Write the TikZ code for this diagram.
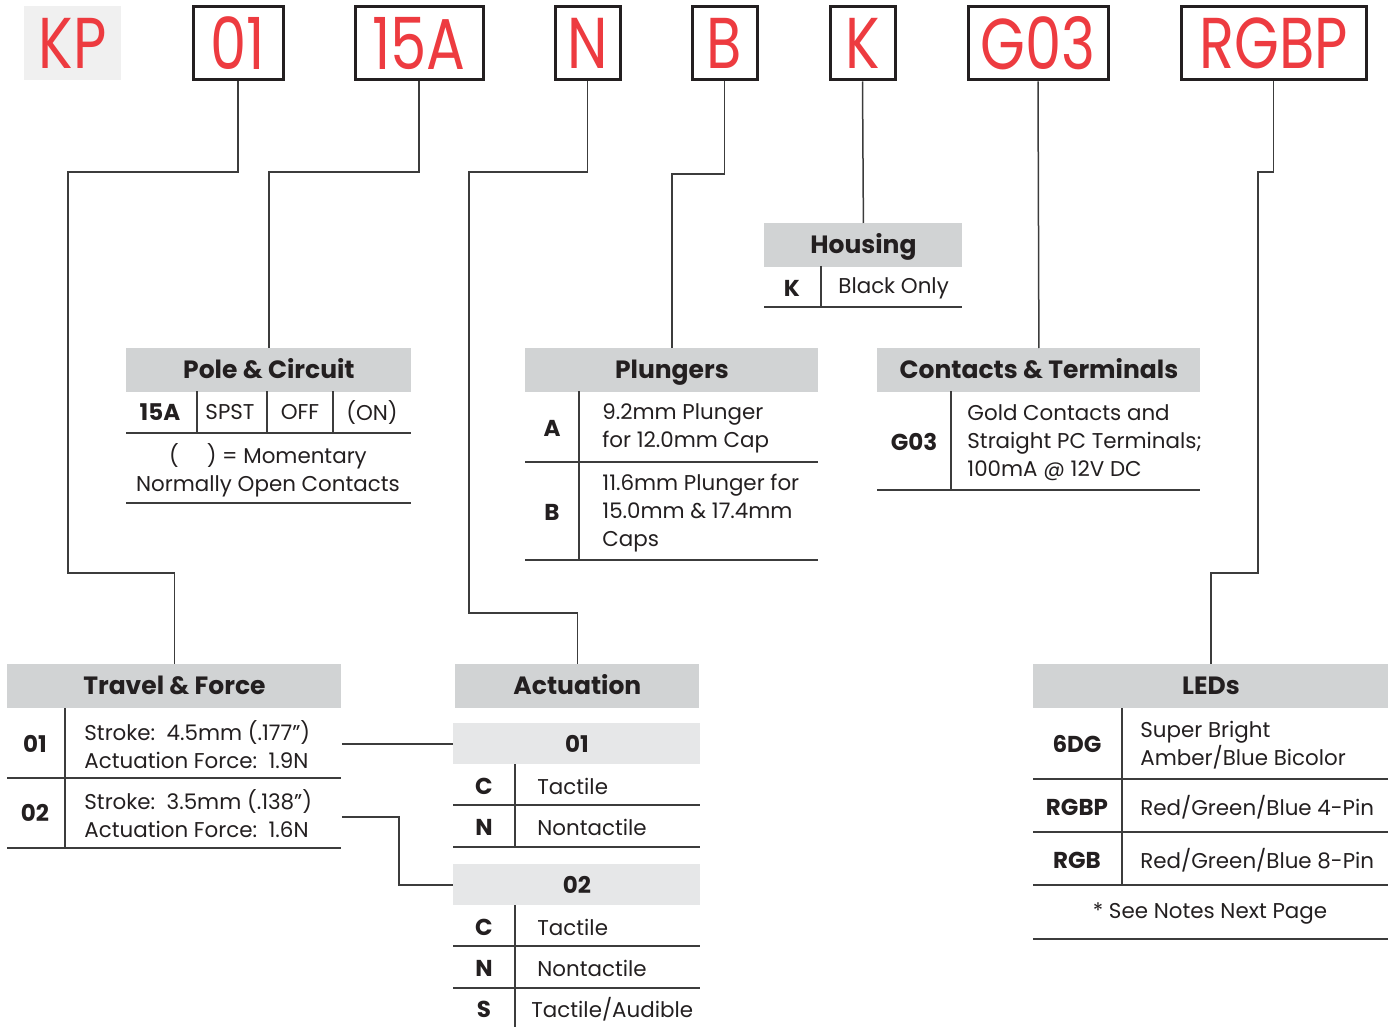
\documentclass[tikz,border=0pt]{standalone}
\usepackage{fontspec}
\setmainfont{Poppins}
\newfontfamily\codefont[FakeStretch=0.8]{Poppins}
\usepackage{xcolor}
\usepackage{tikz}
\usetikzlibrary{positioning, calc}

\definecolor{codered}{RGB}{237,59,64}
\definecolor{hdrgray}{RGB}{209,211,212}
\definecolor{subgray}{RGB}{230,231,232}
\definecolor{kpgray}{RGB}{240,240,240}
\definecolor{linegray}{RGB}{60,60,60}
\definecolor{inkblack}{RGB}{35,31,32}

\begin{document}
\begin{tikzpicture}[
    x=0.5pt, y=-0.5pt,
    every node/.style={text=inkblack},
    codebox/.style={rectangle, draw=inkblack, line width=1.5pt, minimum height=36.5pt, inner sep=0pt, text=codered, font=\codefont\fontsize{36}{36}\selectfont},
    hdr/.style={rectangle, fill=hdrgray, anchor=north west, minimum height=22pt, inner sep=0pt, text height=0.9em, text depth=0.1em, font=\bfseries\fontsize{12.5}{15}\selectfont},
    subhdr/.style={rectangle, fill=subgray, anchor=north west, minimum height=20.5pt, inner sep=0pt, font=\bfseries\fontsize{11.5}{14}\selectfont},
    code/.style={font=\bfseries\fontsize{11.5}{14}\selectfont, inner sep=0pt},
    desc/.style={anchor=west, align=left, inner sep=0pt, font=\fontsize{10.7}{14}\selectfont},
    rule/.style={draw=linegray, line width=1pt},
    conn/.style={draw=linegray, line width=0.75pt}
]
\useasboundingbox (0,0) rectangle (1392,1027);

% Part number
\node[rectangle, fill=kpgray, minimum width=48.5pt, minimum height=37pt, inner sep=0pt, text=codered, font=\codefont\fontsize{36}{36}\selectfont] (kp) at (72.5,43) {KP};
\node[codebox, minimum width=45pt] (c01) at (238,43.5) {01};
\node[codebox, minimum width=64pt] (c15a) at (419,43.5) {15A};
\node[codebox, minimum width=32.5pt] (cn) at (587.5,43.5) {N};
\node[codebox, minimum width=32.5pt] (cb) at (724.5,43.5) {B};
\node[codebox, minimum width=32.5pt] (ck) at (862.5,43.5) {K};
\node[codebox, minimum width=70pt] (cg03) at (1038,43.5) {G03};
\node[codebox, minimum width=92.5pt] (crgbp) at (1273.5,43.5) {RGBP};

% Housing
\node[hdr, minimum width=99pt] (housing) at (764,223) {Housing};
\node[code] (hk) at (792,288) {K};
\node[desc] (hktext) at (838,288) {Black Only};
\draw[rule] (821,266) -- (821,307);
\draw[rule] (764,307) -- (962,307);

% Pole & Circuit
\node[hdr, minimum width=142.5pt] (pole) at (126,348) {Pole \& Circuit};
\node[code] (p15a) at (160,412) {15A};
\node[desc, anchor=center] (pspst) at (230,412) {SPST};
\node[desc, anchor=center] (poff) at (300,412) {OFF};
\node[desc, anchor=center] (pon) at (372,412) {(ON)};
\node[desc, anchor=center, align=center] (pnote) at (268,470) {(\hspace{1.3em}) = Momentary\\Normally Open Contacts};
\draw[rule] (197,391) -- (197,433);
\draw[rule] (267,391) -- (267,433);
\draw[rule] (333,391) -- (333,433);
\draw[rule] (126,433) -- (411,433);
\draw[rule] (126,503) -- (411,503);

% Plungers
\node[hdr, minimum width=146.5pt] (plungers) at (525,348) {Plungers};
\node[code] (pla) at (552,428) {A};
\node[desc] (platext) at (602,428) {9.2mm Plunger\\for 12.0mm Cap};
\node[code] (plb) at (552,512) {B};
\node[desc] (plbtext) at (602,513) {11.6mm Plunger for\\15.0mm \& 17.4mm\\Caps};
\draw[rule] (579,391) -- (579,560);
\draw[rule] (525,462) -- (818,462);
\draw[rule] (525,560) -- (818,560);

% Contacts & Terminals
\node[hdr, minimum width=161.5pt] (contacts) at (877,348) {Contacts \& Terminals};
\node[code] (cg) at (914,442) {G03};
\node[desc] (cgtext) at (967,443) {Gold Contacts and\\Straight PC Terminals;\\100mA @ 12V DC};
\draw[rule] (951,391) -- (951,490);
\draw[rule] (877,490) -- (1200,490);

% Travel & Force
\node[hdr, minimum width=167pt] (travel) at (7,664) {Travel \& Force};
\node[code] (t01) at (35,744) {01};
\node[desc] (t01text) at (84,745) {Stroke:\ \ 4.5mm (.177")\\Actuation Force:\ \ 1.9N};
\node[code] (t02) at (35,813) {02};
\node[desc] (t02text) at (84,814) {Stroke:\ \ 3.5mm (.138")\\Actuation Force:\ \ 1.6N};
\draw[rule] (65,708) -- (65,848);
\draw[rule] (7,778) -- (341,778);
\draw[rule] (7,848) -- (341,848);

% Actuation
\node[hdr, minimum width=122pt] (actuation) at (455,664) {Actuation};
\node[subhdr, minimum width=123.5pt] (act01) at (453,723) {01};
\node[code] (a1c) at (484,786) {C};
\node[desc] (a1ctext) at (537,786) {Tactile};
\node[code] (a1n) at (484,827) {N};
\node[desc] (a1ntext) at (537,827) {Nontactile};
\draw[rule] (515,764) -- (515,847);
\draw[rule] (453,805) -- (700,805);
\draw[rule] (453,847) -- (700,847);
\node[subhdr, minimum width=123.5pt] (act02) at (453,864) {02};
\node[code] (a2c) at (484,927) {C};
\node[desc] (a2ctext) at (537,927) {Tactile};
\node[code] (a2n) at (484,968) {N};
\node[desc] (a2ntext) at (537,968) {Nontactile};
\node[code] (a2s) at (484,1009) {S};
\node[desc] (a2stext) at (531,1009) {Tactile/Audible};
\draw[rule] (515,905) -- (515,1027);
\draw[rule] (453,946) -- (700,946);
\draw[rule] (453,988) -- (700,988);

% LEDs
\node[hdr, minimum width=177.5pt] (leds) at (1033,664) {LEDs};
\node[code] (l6dg) at (1077,744) {6DG};
\node[desc] (l6dgtext) at (1140,745) {Super Bright\\Amber/Blue Bicolor};
\node[code] (lrgbp) at (1077,807) {RGBP};
\node[desc] (lrgbptext) at (1140,807) {Red/Green/Blue 4-Pin};
\node[code] (lrgb) at (1077,860) {RGB};
\node[desc] (lrgbtext) at (1140,860) {Red/Green/Blue 8-Pin};
\node[desc, anchor=center] (lnote) at (1210,914) {*\ See Notes Next Page};
\draw[rule] (1122,708) -- (1122,885);
\draw[rule] (1033,779) -- (1388,779);
\draw[rule] (1033,832) -- (1388,832);
\draw[rule] (1033,885) -- (1388,885);
\draw[rule] (1033,939) -- (1388,939);

% Connectors
\draw[conn] (c01.south) -- (238,172) -- (68,172) -- (68,573) -- (travel.north |- 0,573) -- (travel.north);
\draw[conn] (c15a.south) -- (419,172) -- (pole.north |- 0,172) -- (pole.north);
\draw[conn] (cn.south) -- (587.5,172) -- (469,172) -- (469,613) -- (actuation.north |- 0,613) -- (actuation.north);
\draw[conn] (cb.south) -- (724.5,174) -- (plungers.north |- 0,174) -- (plungers.north);
\draw[conn] (ck.south) -- (housing.north);
\draw[conn] (cg03.south) -- (contacts.north);
\draw[conn] (crgbp.south) -- (1273.5,172) -- (1258,172) -- (1258,573) -- (leds.north |- 0,573) -- (leds.north);
\draw[conn] (travel.east |- act01.west) -- (act01.west);
\draw[conn] (travel.east |- 0,817) -- (399,817) |- (act02.west);

\end{tikzpicture}
\end{document}
